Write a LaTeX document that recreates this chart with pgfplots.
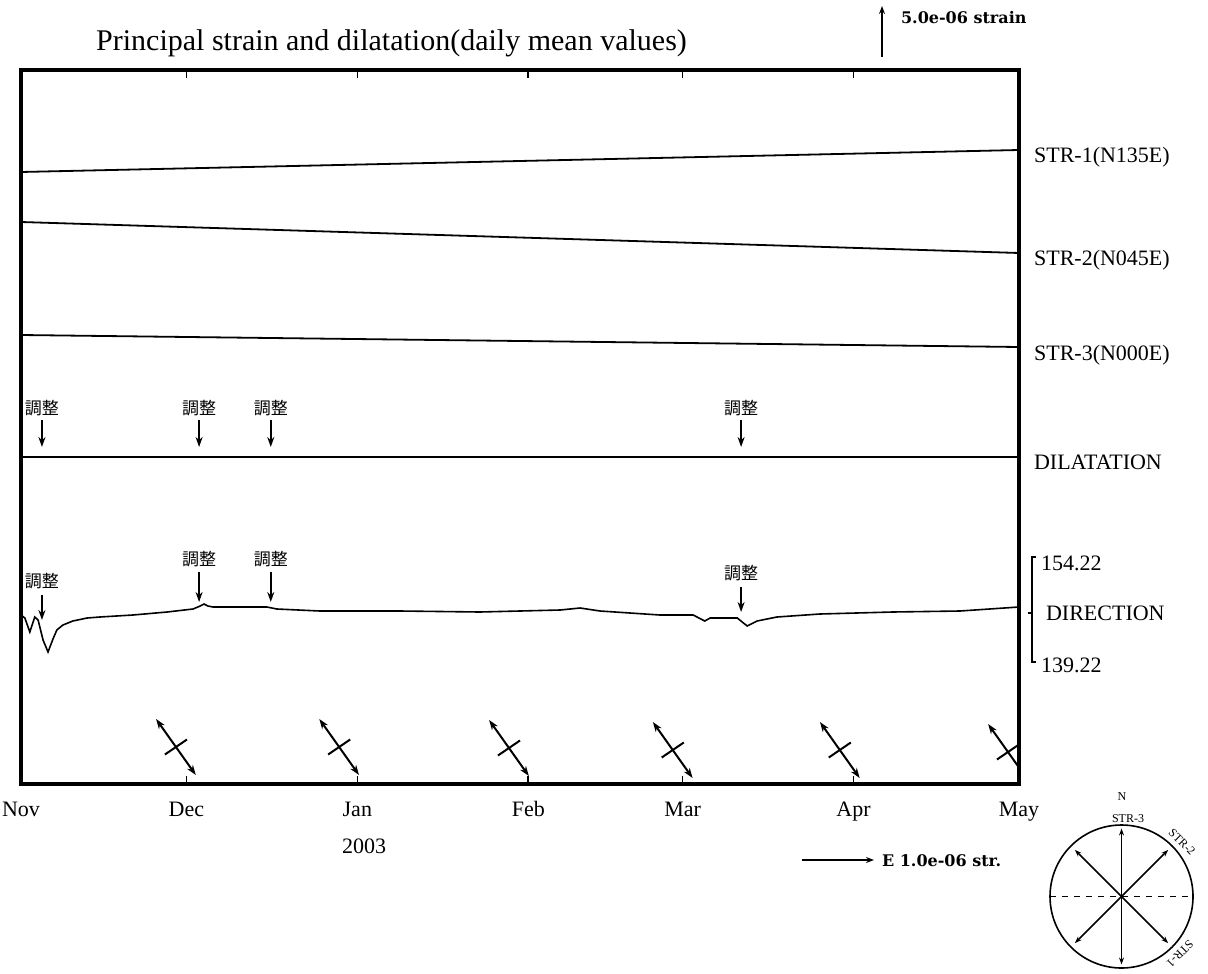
\documentclass[border=0pt]{standalone}
\usepackage{fontspec}
\setmainfont{Liberation Serif}
\newfontfamily\cjk{Noto Sans CJK JP}
\newfontfamily\slab{DejaVu Serif}
\usepackage{pgfplots}
\usepackage{pgfplotstable}
\pgfplotsset{compat=1.18}
\usetikzlibrary{arrows.meta,calc}

\pgfplotstableread{
x y
0 169
0.7 166
1.6 152
2.5 167
3.1 164
4.0 144
4.9 132
5.8 145
6.5 154
7.6 159
9.4 163
12.0 166
14.3 167
20.3 169
26.5 172
31.2 175
32.5 178
33.2 180
33.9 178
34.8 177
44.6 177
46.4 175
54.2 173
68.7 173
83.2 172
97.8 174
101.4 176
105.0 173
115.9 169
121.9 169
124.0 163
125.0 166
129.9 166
131.7 158
133.5 163
137.1 167
144.9 170
158.1 172
170.3 173
181 177
}\direction

\pgfplotstableread{
x y
28.1 37
57.7 37
88.5 36
118.2 34
148.5 34
179.0 32
}\crosses

\begin{document}
\begin{tikzpicture}
\path[use as bounding box] (0pt,0pt) rectangle (604pt,-486.5pt);
\begin{axis}[
  at={(10.5pt,-35pt)}, anchor=north west,
  scale only axis, width=499pt, height=357pt,
  xmin=0, xmax=181, ymin=0, ymax=714,
  axis line style={line width=2pt},
  xtick={0,30,61,92,120,151,181},
  xticklabels={Nov,Dec,Jan,Feb,Mar,Apr,May},
  ytick=\empty,
  major tick length=4pt,
  tick style={line width=0.8pt, black},
  typeset ticklabels with strut,
  xticklabel style={font=\fontsize{11}{13}\selectfont, yshift=-3.8pt},
  clip=true, clip mode=individual,
]
% STR-1, STR-2, STR-3, DILATATION
\addplot[line width=0.9pt] coordinates {(0,612) (181,634)};
\addplot[line width=0.9pt] coordinates {(0,562) (181,531)};
\addplot[line width=0.9pt] coordinates {(0,449) (181,437)};
\addplot[line width=0.9pt] coordinates {(0,327) (60,327) (120,327) (181,327)};
% DIRECTION
\addplot[line width=0.8pt] table {\direction};
% principal strain crosses
\addplot[quiver={u=-3.6,v=28}, -{Stealth[length=5pt,width=3.5pt]}, line width=1pt] table {\crosses};
\addplot[quiver={u=3.6,v=-28}, -{Stealth[length=5pt,width=3.5pt]}, line width=1pt] table {\crosses};
\addplot[quiver={u=4,v=15}, line width=1pt] table[x expr=\thisrow{x}-2, y expr=\thisrow{y}-7.5] {\crosses};
% adjustment markers (dilatation)
\addplot[quiver={u=0,v=-27}, -{Stealth[length=5pt,width=3.5pt]}, line width=1.1pt] coordinates {(3.8,364) (32.3,364) (45.3,364) (130.6,364)};
% adjustment markers (direction)
\addplot[quiver={u=0,v=-25}, -{Stealth[length=5pt,width=3.5pt]}, line width=1.1pt] coordinates {(3.8,189) (130.6,197)};
\addplot[quiver={u=0,v=-30}, -{Stealth[length=5pt,width=3.5pt]}, line width=1.1pt] coordinates {(32.3,212) (45.3,212)};
\node[font=\cjk\fontsize{8.5}{9}\selectfont] at (axis cs:3.8,376) {調整};
\node[font=\cjk\fontsize{8.5}{9}\selectfont] at (axis cs:32.3,376) {調整};
\node[font=\cjk\fontsize{8.5}{9}\selectfont] at (axis cs:45.3,376) {調整};
\node[font=\cjk\fontsize{8.5}{9}\selectfont] at (axis cs:130.6,376) {調整};
\node[font=\cjk\fontsize{8.5}{9}\selectfont] at (axis cs:3.8,203) {調整};
\node[font=\cjk\fontsize{8.5}{9}\selectfont] at (axis cs:32.3,225) {調整};
\node[font=\cjk\fontsize{8.5}{9}\selectfont] at (axis cs:45.3,225) {調整};
\node[font=\cjk\fontsize{8.5}{9}\selectfont] at (axis cs:130.6,211) {調整};
\end{axis}

% title
\node[anchor=base, font=\fontsize{15}{17}\selectfont] at (195.75pt,-25.5pt) {Principal strain and dilatation(daily mean values)};
% scale arrow top
\draw[-{Stealth[length=4pt,width=3pt]}, line width=0.8pt] (441pt,-28.5pt) -- (441pt,-3pt);
\node[anchor=west, font=\slab\bfseries\fontsize{8}{9}\selectfont] at (447pt,-9pt) {5.0e-06 strain};
% right labels
\begin{scope}[font=\fontsize{11}{13}\selectfont]
\node[anchor=west] at (513.5pt,-78.5pt) {STR-1(N135E)};
\node[anchor=west] at (513.5pt,-130pt) {STR-2(N045E)};
\node[anchor=west] at (513.5pt,-177.5pt) {STR-3(N000E)};
\node[anchor=west] at (513.5pt,-231pt) {DILATATION};
\node[anchor=west] at (517pt,-281.5pt) {154.22};
\node[anchor=west] at (519.5pt,-306.5pt) {DIRECTION};
\node[anchor=west] at (517pt,-332.5pt) {139.22};
\end{scope}
\draw[line width=0.7pt] (518pt,-278.5pt) -- (516pt,-278.5pt) -- (516pt,-331pt) -- (518pt,-331pt);
\draw[line width=0.7pt] (516pt,-306.5pt) -- (514pt,-306.5pt);
% year
\node[font=\fontsize{11}{13}\selectfont] at (182pt,-423pt) {2003};
% horizontal scale
\draw[-{Stealth[length=4pt,width=3pt]}, line width=0.8pt] (401pt,-430pt) -- (437pt,-430pt);
\node[anchor=west, font=\slab\bfseries\fontsize{8}{9}\selectfont] at (437.5pt,-430.5pt) {E 1.0e-06 str.};
% compass
\coordinate (c) at (560.75pt,-448.25pt);
\draw[line width=0.8pt] (c) circle (35.75pt);
\draw[dashed, line width=0.6pt] ($(c)+(-35.75pt,0)$) -- ($(c)+(35.75pt,0)$);
\draw[{Stealth[length=3.5pt,width=2.5pt]}-{Stealth[length=3.5pt,width=2.5pt]}, line width=0.8pt] ($(c)+(90:34pt)$) -- ($(c)+(-90:34pt)$);
\draw[{Stealth[length=3.5pt,width=2.5pt]}-{Stealth[length=3.5pt,width=2.5pt]}, line width=0.8pt] ($(c)+(135:33pt)$) -- ($(c)+(-45:33pt)$);
\draw[{Stealth[length=3.5pt,width=2.5pt]}-{Stealth[length=3.5pt,width=2.5pt]}, line width=0.8pt] ($(c)+(45:33pt)$) -- ($(c)+(225:33pt)$);
\begin{scope}[font=\fontsize{6}{7}\selectfont, inner sep=0pt]
\node at (561pt,-398.5pt) {N};
\node at (564pt,-409.5pt) {STR-3};
\node[rotate=-45] at (591pt,-421pt) {STR-2};
\node[rotate=-135] at (590pt,-477pt) {STR-1};
\end{scope}
\end{tikzpicture}
\end{document}
